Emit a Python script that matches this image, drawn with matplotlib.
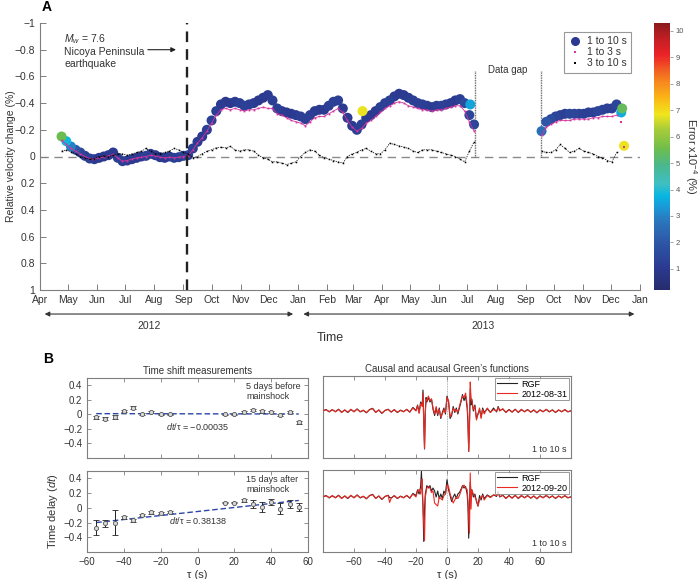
import numpy as np
import pandas as pd
import matplotlib
matplotlib.use('Agg')
import matplotlib.pyplot as plt
import matplotlib.dates as mdates
from matplotlib.colors import LinearSegmentedColormap, Normalize
from matplotlib.cm import ScalarMappable
from matplotlib.lines import Line2D
from matplotlib.ticker import FuncFormatter

plt.rcParams['font.family'] = ['Liberation Sans', 'DejaVu Sans']
plt.rcParams['mathtext.fontset'] = 'custom'
plt.rcParams['mathtext.rm'] = 'Liberation Sans'
plt.rcParams['mathtext.it'] = 'Liberation Sans:italic'
plt.rcParams['axes.unicode_minus'] = True

# ---- panel A: velocity change, read every 5 days ----
seg1_start, seg1_n = '2012-04-24', 89
seg2_start, seg2_n = '2013-09-18', 17

dv_110_seg1 = [
    -0.15, -0.115, -0.075, -0.05, -0.03, -0.005, 0.015, 0.02, 0.01, 0.0,
    -0.01, -0.03, 0.01, 0.035, 0.03, 0.02, 0.01, 0.0, -0.005, -0.02,
    -0.01, 0.005, 0.01, 0.0, 0.01, 0.005, -0.005, -0.01, -0.06, -0.11,
    -0.15, -0.2, -0.27, -0.34, -0.39, -0.41, -0.40, -0.41, -0.40, -0.38,
    -0.39, -0.40, -0.42, -0.44, -0.46, -0.42, -0.36, -0.34, -0.33, -0.32,
    -0.31, -0.30, -0.28, -0.31, -0.34, -0.35, -0.35, -0.38, -0.41, -0.42,
    -0.36, -0.29, -0.23, -0.20, -0.24, -0.29, -0.31, -0.34, -0.37, -0.40,
    -0.42, -0.45, -0.47, -0.46, -0.44, -0.42, -0.40, -0.39, -0.38, -0.37,
    -0.38, -0.38, -0.39, -0.40, -0.42, -0.43, -0.40, -0.31, -0.24]
dv_110_seg2 = [
    -0.19, -0.26, -0.28, -0.30, -0.31, -0.32, -0.32, -0.32, -0.32, -0.32,
    -0.33, -0.33, -0.34, -0.35, -0.36, -0.36, -0.39]
dv_110_extra_dates = ['2013-03-11', '2013-07-04', '2013-12-12', '2013-12-13', '2013-12-15']
dv_110_extra = [-0.34, -0.39, -0.33, -0.36, -0.08]

err_110_seg1 = [
    5.5, 3.8, 3.0, 2.0, 1.5, 1.2, 1.2, 1.1, 1.0, 1.0,
    1.0, 1.1, 1.2, 1.2, 1.1, 1.0, 1.0, 1.1, 1.2, 1.2,
    1.1, 1.0, 1.0, 1.1, 1.2, 1.2, 1.3, 1.2, 1.2, 1.1,
    1.1, 1.2, 1.3, 1.2, 1.1, 1.0, 1.0, 1.1, 1.2, 1.3,
    1.2, 1.1, 1.0, 1.0, 1.1, 1.2, 1.2, 1.1, 1.0, 1.0,
    1.1, 1.2, 1.3, 1.2, 1.1, 1.0, 1.1, 1.2, 1.3, 1.2,
    1.1, 1.0, 1.1, 1.2, 1.2, 1.1, 1.0, 1.1, 1.2, 1.3,
    1.2, 1.1, 1.0, 1.0, 1.1, 1.2, 1.3, 1.2, 1.1, 1.1,
    1.2, 1.3, 1.2, 1.1, 1.0, 1.2, 1.6, 1.4, 1.5]
err_110_seg2 = [
    2.6, 2.0, 1.6, 1.4, 1.3, 1.2, 1.5, 1.4, 1.3, 1.2,
    1.2, 1.3, 1.4, 1.3, 1.2, 1.3, 1.4]
err_110_extra = [6.8, 3.5, 3.6, 5.4, 6.8]

dv_13_seg1 = [
    -0.12, -0.09, -0.06, -0.04, -0.02, 0.0, 0.015, 0.02, 0.01, 0.005,
    -0.005, -0.015, 0.01, 0.035, 0.03, 0.02, 0.01, 0.005, 0.0, -0.01,
    -0.005, 0.005, 0.01, 0.005, 0.01, 0.005, 0.0, -0.005, -0.05, -0.10,
    -0.14, -0.19, -0.25, -0.31, -0.35, -0.36, -0.35, -0.36, -0.35, -0.34,
    -0.35, -0.35, -0.36, -0.37, -0.36, -0.36, -0.32, -0.31, -0.29, -0.27,
    -0.26, -0.25, -0.23, -0.26, -0.29, -0.30, -0.30, -0.32, -0.34, -0.36,
    -0.33, -0.27, -0.22, -0.19, -0.21, -0.25, -0.27, -0.30, -0.33, -0.36,
    -0.38, -0.40, -0.41, -0.40, -0.38, -0.37, -0.36, -0.35, -0.35, -0.34,
    -0.35, -0.35, -0.36, -0.37, -0.38, -0.38, -0.34, -0.26, -0.19]
dv_13_seg2 = [
    -0.16, -0.22, -0.24, -0.26, -0.27, -0.27, -0.27, -0.28, -0.28, -0.28,
    -0.28, -0.29, -0.29, -0.30, -0.30, -0.30, -0.31]
dv_13_extra_dates = ['2013-12-12', '2013-12-15']
dv_13_extra = [-0.26, -0.07]

dv_310_seg1 = [
    -0.04, -0.05, -0.035, -0.02, 0.0, 0.01, 0.02, 0.015, 0.0, -0.005,
    0.0, -0.01, -0.02, -0.02, -0.01, -0.02, -0.03, -0.04, -0.06, -0.04,
    -0.02, -0.02, -0.03, -0.04, -0.06, -0.05, -0.03, -0.02, 0.01, 0.0,
    -0.02, -0.04, -0.05, -0.065, -0.07, -0.065, -0.075, -0.05, -0.04, -0.05,
    -0.05, -0.04, -0.01, 0.01, 0.02, 0.04, 0.04, 0.05, 0.06, 0.05,
    0.04, 0.0, -0.03, -0.05, -0.04, -0.01, 0.01, 0.02, 0.03, 0.04,
    0.05, 0.0, -0.02, -0.03, -0.05, -0.06, -0.04, -0.02, -0.02, -0.05,
    -0.10, -0.09, -0.08, -0.07, -0.06, -0.04, -0.03, -0.05, -0.05, -0.05,
    -0.04, -0.03, -0.02, -0.01, 0.0, 0.02, 0.04, -0.04, -0.11]
dv_310_seg2 = [
    -0.04, -0.03, -0.03, -0.05, -0.09, -0.06, -0.03, -0.04, -0.06, -0.04,
    -0.03, -0.02, 0.0, 0.01, 0.03, 0.04, -0.03]

mainshock = '2012-09-05'
gap_edges = ['2013-07-09', '2013-09-17']

# ---- panel B: time shift measurements ----
tau_shift = [-55, -50, -45, -40, -35, -30, -25, -20, -15, 15, 20, 25, 30, 35, 40, 45, 50, 55]
dt_before = [-0.04, -0.06, -0.04, 0.05, 0.09, 0.01, 0.03, 0.0, 0.0,
             0.0, 0.0, 0.03, 0.06, 0.04, 0.03, -0.01, 0.03, -0.11]
err_before = [0.02, 0.02, 0.03, 0.015, 0.02, 0.015, 0.015, 0.01, 0.01,
              0.01, 0.01, 0.015, 0.02, 0.015, 0.015, 0.015, 0.015, 0.02]
dt_after = [-0.27, -0.21, -0.2, -0.13, -0.17, -0.1, -0.06, -0.07, -0.06,
            0.07, 0.07, 0.1, 0.05, 0.01, 0.08, -0.01, 0.05, 0.01]
err_after = [0.1, 0.05, 0.17, 0.02, 0.02, 0.015, 0.02, 0.015, 0.015,
             0.01, 0.01, 0.015, 0.05, 0.07, 0.04, 0.08, 0.05, 0.06]
fit_tau = [-55, 55]
fit_before = [0.01, 0.005]
fit_after = [-0.2, 0.1]

# ---- panel B: Green's functions (amplitude, arbitrary units) ----
tau_gf_top = [-80, -78, -76, -74, -72, -70, -68, -66, -64, -62, -60, -58, -56, -54, -52, -50,
              -48, -46, -44, -42, -40, -38, -36, -34, -32, -30, -28, -26, -24, -22, -20, -19,
              -18, -17, -16, -15.5, -15, -14.5, -14, -13.5, -13, -12, -11, -10, -9, -8,
              -7, -6, -5, -4, -3, -2, -1, 0, 1, 2, 3, 4, 5, 6, 7, 8, 9, 10, 11, 12, 13,
              13.5, 14, 14.5, 15, 15.5, 16, 17, 18, 19, 20, 21, 22, 23, 24, 26, 28, 30, 32,
              33, 34, 36, 38, 40, 42, 44, 46, 48, 50, 52, 54, 56, 58, 60, 62, 64, 66, 68,
              70, 72, 74, 76, 78, 80]
rgf_top = [0.0, 0.05, -0.03, 0.04, -0.02, 0.06, -0.04, 0.03, -0.05, 0.05, -0.02, 0.07, -0.03, 0.02,
           -0.06, 0.05, 0.09, -0.04, 0.03, -0.08, 0.02, 0.06, -0.03, 0.04, -0.05, 0.03, -0.02,
           0.05, -0.04, 0.12, 0.02, 0.2, -0.05, 0.3, 0.2, 0.7, -0.3, -1.27, 0.0, 0.45, 0.3,
           0.45, 0.3, 0.4, 0.05, -0.15, 0.1, -0.15, 0.1, -0.25, -0.05, 0.1, -0.1, 0.5, 0.3,
           -0.25, -0.15, 0.15, -0.05, 0.1, -0.1, 0.1, 0.3, 0.55, 0.35, 0.5, 0.1, -0.4, -1.35,
           -0.4, 0.75, 0.2, 0.4, 0.0, 0.2, -0.25, -0.1, 0.05, -0.2, 0.1, -0.05, 0.08, -0.05,
           0.1, -0.03, 0.15, 0.02, 0.06, -0.04, 0.05, -0.03, 0.06, -0.05, 0.04, -0.02, 0.05,
           -0.04, 0.03, -0.06, 0.04, -0.02, 0.05, -0.03, 0.04, -0.05, 0.03, -0.02, 0.04,
           -0.03, 0.01]
cgf_top = [0.02, 0.04, -0.02, 0.05, -0.03, 0.05, -0.05, 0.04, -0.04, 0.06, -0.03, 0.06, -0.02, 0.03,
           -0.05, 0.04, 0.08, -0.05, 0.04, -0.07, 0.02, 0.05, -0.04, 0.05, -0.04, 0.02, -0.03,
           0.06, -0.03, 0.1, 0.0, 0.18, -0.08, 0.25, 0.15, 0.6, -0.4, -1.25, -0.1, 0.4, 0.35,
           0.5, 0.35, 0.4, 0.1, -0.1, 0.15, -0.1, 0.05, -0.2, -0.1, 0.05, -0.05, 0.45, 0.35,
           -0.2, -0.1, 0.1, 0.0, 0.05, -0.05, 0.15, 0.35, 0.5, 0.45, 0.6, 0.2, -0.2, -1.35,
           -0.6, 0.97, 0.4, 0.35, 0.05, 0.15, -0.3, -0.1, 0.1, -0.25, 0.05, -0.1, 0.1, -0.05,
           0.05, 0.0, 0.12, 0.0, 0.08, -0.05, 0.04, -0.04, 0.05, -0.04, 0.06, -0.03, 0.04,
           -0.03, 0.04, -0.05, 0.03, -0.03, 0.06, -0.02, 0.03, -0.04, 0.04, -0.03, 0.05,
           -0.02, 0.0]

tau_gf_bot = [-80, -78, -76, -74, -72, -70, -68, -66, -64, -62, -60, -58, -56, -54, -52, -50,
              -48, -46, -44, -42, -40, -38, -37, -36, -34, -32, -30, -28, -26, -24, -22, -20,
              -19, -18, -17, -16.5, -16, -15.5, -15, -14.5, -14, -13, -12, -11, -10, -9, -8,
              -7, -6, -5, -4, -3, -2, -1, 0, 1, 2, 3, 4, 5, 6, 7, 8, 9, 10, 11, 12, 13,
              13.5, 14, 14.5, 15, 15.5, 16, 17, 18, 19, 20, 21, 22, 23, 24, 26, 28, 30, 32,
              33, 34, 36, 38, 40, 42, 44, 46, 48, 50, 52, 54, 56, 58, 60, 62, 64, 66, 68,
              70, 72, 74, 76, 78, 80]
rgf_bot = [0.0, 0.05, -0.03, 0.04, -0.02, 0.06, -0.04, 0.03, -0.05, 0.05, -0.02, 0.07, -0.03, 0.02,
           -0.06, 0.05, 0.09, -0.04, 0.03, -0.08, 0.02, 0.06, -0.02, -0.03, 0.04, -0.05, 0.03,
           -0.02, 0.05, -0.04, 0.12, 0.05, 0.24, 0.1, 0.36, 0.86, 0.2, -0.3, -1.48, -0.4, 0.1,
           0.38, 0.3, 0.38, 0.2, 0.3, 0.2, 0.0, 0.2, -0.05, 0.1, -0.05, 0.2, 0.1, 0.58, 0.24,
           0.05, -0.15, 0.0, 0.1, -0.05, 0.1, 0.15, 0.25, 0.38, 0.3, 0.35, 0.1, -0.3, -1.37,
           -0.2, 0.5, 0.1, 0.24, 0.0, 0.1, -0.15, -0.3, 0.05, -0.1, 0.1, -0.05, 0.07, 0.0,
           0.07, 0.02, 0.18, 0.0, 0.06, -0.04, 0.05, -0.03, 0.06, -0.05, 0.04, -0.02, 0.05,
           -0.04, 0.03, -0.06, 0.04, -0.02, 0.05, -0.03, 0.04, -0.05, 0.03, -0.02, 0.04,
           -0.03, 0.01]
cgf_bot = [0.02, 0.04, -0.02, 0.05, -0.03, 0.05, -0.05, 0.04, -0.04, 0.06, -0.03, 0.06, -0.02, 0.03,
           -0.05, 0.04, 0.08, -0.05, 0.04, -0.07, 0.02, 0.05, -0.18, -0.04, 0.05, -0.04, 0.02,
           -0.03, 0.06, -0.03, 0.1, 0.0, 0.2, 0.25, 0.1, 0.3, 0.6, -0.3, -0.9, -1.45, 0.0,
           0.3, 0.35, 0.3, 0.15, 0.2, -0.2, -0.25, -0.3, 0.0, -0.05, -0.1, 0.05, 0.1, 0.4, 0.35,
           0.1, -0.05, -0.2, -0.1, 0.0, -0.05, 0.05, 0.2, 0.35, 0.4, 0.3, 0.25, -0.1, -0.7,
           -1.2, 0.8, -0.4, 0.24, 0.1, 0.0, -0.1, -0.3, -0.1, 0.0, 0.05, -0.1, 0.05, -0.02,
           0.07, 0.05, 0.15, 0.02, 0.05, -0.05, 0.04, -0.04, 0.05, -0.04, 0.06, -0.03, 0.04,
           -0.03, 0.04, -0.05, 0.03, -0.03, 0.06, -0.02, 0.03, -0.04, 0.04, -0.03, 0.05,
           -0.02, 0.0]

GRAY = '#7f7f7f'
TXT = '#333333'


def fmt_num(y, pos=None):
    return ('%g' % (round(y, 2) + 0.0)).replace('-', '\u2212')


def style_box(ax):
    for s in ax.spines.values():
        s.set_color(GRAY)
        s.set_linewidth(0.8)
    ax.tick_params(direction='in', color=GRAY, labelcolor=TXT, labelsize=7,
                   top=True, right=True, length=3, width=0.6)


def main():
    fig = plt.figure(figsize=(7, 5.79), dpi=100)

    # error colormap (jet-like, darker blues at the bottom)
    cmap = LinearSegmentedColormap.from_list('err', [
        (0.0, '#262c6c'), (0.08, '#2b3990'), (0.18, '#2d58a7'), (0.26, '#2a78bd'),
        (0.31, '#1c98d6'), (0.35, '#06b6e3'), (0.40, '#3fbfc1'), (0.47, '#4bb78a'),
        (0.53, '#6fbe4a'), (0.60, '#a6cb3a'), (0.66, '#f1e51d'), (0.72, '#fbb515'),
        (0.77, '#f7901e'), (0.83, '#f15a22'), (0.88, '#ec2327'), (0.94, '#c41f24'),
        (1.0, '#8b1a1c')])
    norm = Normalize(0.2, 10.3)

    dates1 = pd.date_range(seg1_start, periods=seg1_n, freq='5D')
    dates2 = pd.date_range(seg2_start, periods=seg2_n, freq='5D')

    ax = fig.add_axes([40 / 700, 1 - 290 / 579, 600 / 700, 267 / 579])
    ax.set_xlim(pd.Timestamp('2012-04-01'), pd.Timestamp('2014-01-01'))
    ax.set_ylim(1, -1)

    # blue: 1 to 10 s, colored by error
    d110 = list(dates1) + list(dates2) + list(pd.to_datetime(dv_110_extra_dates))
    v110 = dv_110_seg1 + dv_110_seg2 + dv_110_extra
    e110 = err_110_seg1 + err_110_seg2 + err_110_extra
    order = np.argsort(e110, kind='stable')
    ax.scatter([d110[i] for i in order], [v110[i] for i in order], c=[e110[i] for i in order],
               cmap=cmap, norm=norm, s=52, linewidths=0, zorder=3)

    # magenta: 1 to 3 s
    for dd, vv in [(dates1, dv_13_seg1), (dates2, dv_13_seg2)]:
        ax.plot(dd, vv, color='#d6339f', lw=0.6, marker='s', ms=1.3, mew=0, zorder=4)
    ax.plot(pd.to_datetime(dv_13_extra_dates), dv_13_extra, ls='none', color='#d6339f',
            marker='s', ms=1.5, mew=0, zorder=4)
    # black: 3 to 10 s
    for dd, vv in [(dates1, dv_310_seg1), (dates2, dv_310_seg2)]:
        ax.plot(dd, vv, color='black', lw=0.5, ls=(0, (2, 1.5)), marker='s', ms=1.1, mew=0, zorder=5)

    ax.axhline(0, color='#8a8a8a', lw=1.0, ls=(0, (6, 4)), zorder=1)
    ax.axvline(pd.Timestamp(mainshock), color='#222222', lw=1.7, ls=(0, (4.5, 3)), zorder=6)
    for g in gap_edges:
        ax.plot([pd.Timestamp(g)] * 2, [0, -0.64], color='#555555', lw=1.0, ls=(0, (0.6, 0.6)), zorder=2)
    ax.text(pd.Timestamp('2013-08-13'), -0.65, 'Data gap', ha='center', va='center', fontsize=7, color=TXT)

    ax.text(pd.Timestamp('2012-04-27'), -0.93, '$M_w$ = 7.6\nNicoya Peninsula\nearthquake',
            ha='left', va='top', fontsize=7.5, color=TXT, linespacing=1.15)
    ax.annotate('', xy=(pd.Timestamp('2012-08-27'), -0.8), xytext=(pd.Timestamp('2012-07-22'), -0.8),
                arrowprops=dict(arrowstyle='-|>', color='#222222', lw=0.8, mutation_scale=7))

    for s in ['top', 'right']:
        ax.spines[s].set_visible(False)
    for s in ['left', 'bottom']:
        ax.spines[s].set_color(GRAY)
        ax.spines[s].set_linewidth(0.8)
    ax.set_yticks(np.round(np.arange(-1, 1.01, 0.2), 2))
    ax.yaxis.set_major_formatter(FuncFormatter(fmt_num))
    ax.xaxis.set_major_locator(mdates.MonthLocator())
    ax.xaxis.set_major_formatter(mdates.DateFormatter('%b'))
    ax.tick_params(direction='in', color=GRAY, labelcolor=TXT, labelsize=7.5, length=4, width=0.7)

    # year arrows
    for a, b, lab, mid in [('2012-04-03', '2012-12-30', '2012', '2012-07-26'),
                           ('2013-01-04', '2013-12-29', '2013', '2013-07-18')]:
        ax.annotate('', xy=(pd.Timestamp(a), -0.09), xytext=(pd.Timestamp(b), -0.09),
                    xycoords=('data', 'axes fraction'), textcoords=('data', 'axes fraction'),
                    arrowprops=dict(arrowstyle='<|-|>', color='#333333', lw=0.8, mutation_scale=7),
                    annotation_clip=False)
        ax.text(pd.Timestamp(mid), -0.135, lab, transform=ax.get_xaxis_transform(),
                ha='center', va='center', fontsize=7.5, color=TXT)
    ax.text(pd.Timestamp('2013-02-05'), -0.18, 'Time', transform=ax.get_xaxis_transform(),
            ha='center', va='center', fontsize=9, color=TXT)
    fig.text(0.008, 1 - 156 / 579, 'Relative velocity change (%)', rotation=90,
             ha='left', va='center', fontsize=7.5, color=TXT)

    handles = [Line2D([], [], ls='none', marker='o', ms=6.5, color='#2b3990', mew=0),
               Line2D([], [], ls='none', marker='s', ms=2, color='#d6339f', mew=0),
               Line2D([], [], ls='none', marker='s', ms=2, color='black', mew=0)]
    leg = ax.legend(handles, ['1 to 10 s', '1 to 3 s', '3 to 10 s'], loc='upper right',
                    bbox_to_anchor=(0.993, 0.985), fontsize=7.5, frameon=True, fancybox=False,
                    handletextpad=0.5, borderpad=0.4, labelspacing=0.1, handlelength=1.3)
    leg.get_frame().set_edgecolor(GRAY)
    leg.get_frame().set_linewidth(0.8)
    for t in leg.get_texts():
        t.set_color(TXT)

    cax = fig.add_axes([654 / 700, 1 - 290 / 579, 16 / 700, 267 / 579])
    cb = fig.colorbar(ScalarMappable(norm=norm, cmap=cmap), cax=cax)
    cb.outline.set_visible(False)
    cb.set_ticks(range(1, 11))
    cb.ax.tick_params(labelsize=5.5, length=2, color=GRAY, labelcolor='#555555', width=0.5, pad=2)
    fig.text(691 / 700, 1 - 156 / 579, 'Error x10$^{-4}$ (%)', rotation=270, fontsize=8,
             color=TXT, ha='center', va='center')

    fig.text(42 / 700, 1 - 7 / 579, 'A', fontsize=10, fontweight='bold', ha='left', va='center')
    fig.text(43 / 700, 1 - 359 / 579, 'B', fontsize=10, fontweight='bold', ha='left', va='center')

    # ---- panel B left: time shifts ----
    axs_l = [fig.add_axes([87 / 700, 1 - 458 / 579, 221 / 700, 80 / 579]),
             fig.add_axes([87 / 700, 1 - 552 / 579, 221 / 700, 81 / 579])]
    for k, (axl, dt, er, fit, note, lab) in enumerate([
            (axs_l[0], dt_before, err_before, fit_before, '5 days before\nmainshock', '\u22120.00035'),
            (axs_l[1], dt_after, err_after, fit_after, '15 days after\nmainshock', '0.38138')]):
        axl.plot(fit_tau, fit, color='#2b46a8', lw=1.0, ls=(0, (4, 2)), zorder=2)
        axl.errorbar(tau_shift, dt, yerr=er, fmt='o', ms=3, mfc='#d9d9d9', mec='#555555', mew=0.6,
                     ecolor='#222222', elinewidth=0.7, capsize=2, capthick=0.7, zorder=3)
        axl.set_xlim(-60, 60)
        axl.set_ylim(-0.6, 0.5)
        axl.set_xticks(range(-60, 61, 20))
        axl.set_yticks([-0.4, -0.2, 0, 0.2, 0.4])
        axl.yaxis.set_major_formatter(FuncFormatter(fmt_num))
        style_box(axl)
        axl.text(0.72, 0.95, note, transform=axl.transAxes, ha='left', va='top', fontsize=6.5,
                 color=TXT, linespacing=1.1)
        axl.text(0, -0.17, '$\\mathit{dt}$/\u03c4 = ' + lab, ha='center', va='center',
                 fontsize=6.5, color=TXT)
        if k == 0:
            axl.tick_params(labelbottom=False)
            axl.set_title('Time shift measurements', fontsize=7, color=TXT, pad=3)
        else:
            axl.set_xlabel('\u03c4 (s)', fontsize=8, color=TXT, labelpad=2)
            axl.set_ylabel('Time delay ($\\mathit{dt}$)', fontsize=8, color=TXT, labelpad=2)

    # ---- panel B right: Green's functions ----
    axs_r = [fig.add_axes([323 / 700, 1 - 458 / 579, 248 / 700, 82 / 579]),
             fig.add_axes([323 / 700, 1 - 552 / 579, 248 / 700, 82 / 579])]
    for k, (axr, tg, rg, cg, day, yl) in enumerate([
            (axs_r[0], tau_gf_top, rgf_top, cgf_top, '2012-08-31', (-1.57, 1.17)),
            (axs_r[1], tau_gf_bot, rgf_bot, cgf_bot, '2012-09-20', (-1.83, 0.9))]):
        axr.axvline(0, color='#9a9a9a', lw=0.6, ls=(0, (1, 1)), zorder=1)
        axr.plot(tg, rg, color='#222222', lw=0.8, label='RGF', zorder=2)
        axr.plot(tg, cg, color='#ec2a24', lw=0.8, label=day, zorder=3)
        axr.set_xlim(-80, 80)
        axr.set_ylim(*yl)
        axr.set_xticks(range(-60, 61, 20))
        axr.set_yticks([])
        style_box(axr)
        lg = axr.legend(loc='upper right', fontsize=6.5, fancybox=False, borderaxespad=0.2,
                        handlelength=2.2, borderpad=0.2, labelspacing=0.1, handletextpad=0.5)
        lg.get_frame().set_edgecolor(GRAY)
        lg.get_frame().set_linewidth(0.7)
        axr.text(0.98, 0.05, '1 to 10 s', transform=axr.transAxes, ha='right', va='bottom',
                 fontsize=6.5, color=TXT)
        if k == 0:
            axr.tick_params(labelbottom=False)
            axr.set_title('Causal and acausal Green\u2019s functions', fontsize=7, color=TXT, pad=3)
        else:
            axr.set_xlabel('\u03c4 (s)', fontsize=8, color=TXT, labelpad=2)

    fig.savefig('out.png', dpi=100)


if __name__ == '__main__':
    main()
